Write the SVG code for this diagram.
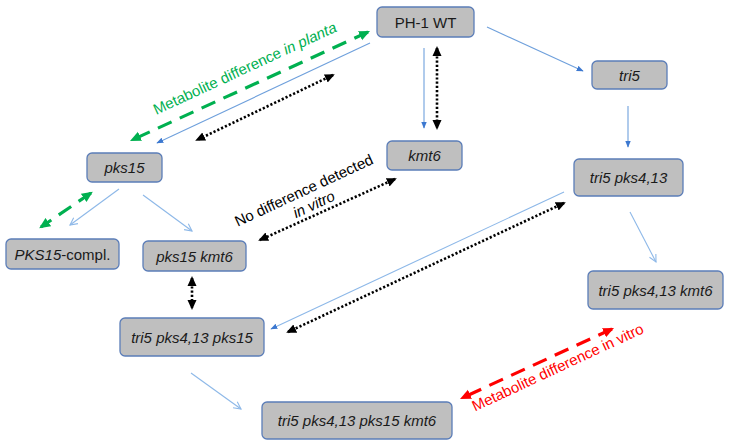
<svg xmlns="http://www.w3.org/2000/svg" width="730" height="446" viewBox="0 0 730 446">
<style>
.box{fill:#BFBFBF;stroke:#5B7DB8;stroke-width:1.3}
.t{font-family:"Liberation Sans",Arial,sans-serif;font-size:15px;fill:#1a1a1a;text-anchor:middle;dominant-baseline:central}
.i{font-style:italic}
.blue{stroke:#8DB8E8;stroke-width:1.1;fill:none}
.dark{stroke:#6FA0DC;stroke-width:1.1;fill:none}
.dot{stroke:#000;stroke-width:2.6;stroke-dasharray:2.2 2;fill:none}
.green{stroke:#00B050;stroke-width:3.2;stroke-dasharray:15 9;fill:none}
.red{stroke:#FF0000;stroke-width:3.2;stroke-dasharray:15 9;fill:none}
.lbl{font-family:"Liberation Sans",Arial,sans-serif;font-size:15px;text-anchor:middle}
</style>
<defs>
<marker id="ab" markerUnits="userSpaceOnUse" viewBox="0 0 10 10" refX="9" refY="5" markerWidth="7" markerHeight="7" orient="auto"><path d="M0,1 L10,5 L0,9 z" fill="#3C78D0"/></marker>
<marker id="ao" markerUnits="userSpaceOnUse" viewBox="0 0 10 10" refX="9" refY="5" markerWidth="9" markerHeight="9" orient="auto"><path d="M1,1 L9,5 L1,9" fill="none" stroke="#8DB8E8" stroke-width="1.2"/></marker>
<marker id="ak" markerUnits="userSpaceOnUse" viewBox="0 0 10 10" refX="8" refY="5" markerWidth="10" markerHeight="10" orient="auto-start-reverse"><path d="M0,0.5 L10,5 L0,9.5 z" fill="#000"/></marker>
<marker id="ag" markerUnits="userSpaceOnUse" viewBox="0 0 10 10" refX="8" refY="5" markerWidth="11" markerHeight="11" orient="auto-start-reverse"><path d="M0,0.5 L10,5 L0,9.5 z" fill="#00B050"/></marker>
<marker id="ar" markerUnits="userSpaceOnUse" viewBox="0 0 10 10" refX="8" refY="5" markerWidth="11" markerHeight="11" orient="auto-start-reverse"><path d="M0,0.5 L10,5 L0,9.5 z" fill="#FF0000"/></marker>
</defs>
<rect width="730" height="446" fill="#fff"/>
<g id="connectors">
<line class="dark" x1="370" y1="43" x2="157" y2="143" marker-end="url(#ab)"/>
<line class="dark" x1="424" y1="48" x2="424" y2="128" marker-end="url(#ab)"/>
<line class="dark" x1="487" y1="27" x2="583" y2="71" marker-end="url(#ab)"/>
<line class="dark" x1="628" y1="106" x2="628" y2="147" marker-end="url(#ab)"/>
<line class="blue" x1="630" y1="212" x2="656" y2="262" marker-end="url(#ao)"/>
<line class="blue" x1="564" y1="192" x2="271" y2="329" marker-end="url(#ab)"/>
<line class="blue" x1="119" y1="189" x2="70" y2="225" marker-end="url(#ao)"/>
<line class="blue" x1="143" y1="195" x2="192" y2="231" marker-end="url(#ao)"/>
<line class="blue" x1="191" y1="373" x2="241" y2="409" marker-end="url(#ao)"/>
<line class="dot" x1="333" y1="75" x2="197" y2="140" marker-start="url(#ak)" marker-end="url(#ak)"/>
<line class="dot" x1="437" y1="48" x2="437" y2="128" marker-start="url(#ak)" marker-end="url(#ak)"/>
<line class="dot" x1="395" y1="179" x2="260" y2="240" marker-start="url(#ak)" marker-end="url(#ak)"/>
<line class="dot" x1="192" y1="278" x2="192" y2="308" marker-start="url(#ak)" marker-end="url(#ak)"/>
<line class="dot" x1="564" y1="203" x2="288" y2="332" marker-start="url(#ak)" marker-end="url(#ak)"/>
<line class="green" x1="368" y1="32" x2="132" y2="140" marker-start="url(#ag)" marker-end="url(#ag)"/>
<line class="green" x1="91" y1="193" x2="41" y2="227" marker-start="url(#ag)" marker-end="url(#ag)"/>
<line class="red" x1="612" y1="329" x2="462" y2="398" marker-start="url(#ar)" marker-end="url(#ar)"/>
<text class="lbl" fill="#00B050" font-size="16" transform="translate(247,73) rotate(-24.8)">Metabolite difference <tspan font-style="italic">in planta</tspan></text>
<text class="lbl" fill="#000" transform="translate(306,195) rotate(-25)">No difference detected</text>
<text class="lbl" fill="#000" font-style="italic" transform="translate(316,209) rotate(-25)">in vitro</text>
<text class="lbl" fill="#FF0000" transform="translate(560,372) rotate(-25)">Metabolite difference in vitro</text>
</g>
<g id="n-ph1"><rect class="box" x="377" y="7" width="97" height="30" rx="5"/><text class="t" x="425.5" y="22">PH-1 WT</text></g>
<g id="n-tri5"><rect class="box" x="592" y="61" width="75" height="28" rx="5"/><text class="t i" x="629.5" y="75">tri5</text></g>
<g id="n-kmt6"><rect class="box" x="387" y="141" width="75" height="29" rx="5"/><text class="t i" x="424.5" y="155.5">kmt6</text></g>
<g id="n-tri5pks"><rect class="box" x="574" y="159" width="109" height="37" rx="5"/><text class="t i" x="628.5" y="177.5">tri5 pks4,13</text></g>
<g id="n-tri5pkskmt6"><rect class="box" x="588" y="271" width="135" height="38" rx="5"/><text class="t i" x="655.5" y="290">tri5 pks4,13 kmt6</text></g>
<g id="n-pks15"><rect class="box" x="87" y="153" width="75" height="29" rx="5"/><text class="t i" x="124.5" y="167.5">pks15</text></g>
<g id="n-compl"><rect class="box" x="6" y="239" width="113" height="30" rx="5"/><text class="t" x="62.5" y="254"><tspan font-style="italic">PKS15</tspan>-compl.</text></g>
<g id="n-pks15kmt6"><rect class="box" x="143" y="241" width="103" height="30" rx="5"/><text class="t i" x="194.5" y="256">pks15 kmt6</text></g>
<g id="n-tri5pkspks15"><rect class="box" x="120" y="318" width="144" height="38" rx="5"/><text class="t i" x="192" y="337">tri5 pks4,13 pks15</text></g>
<g id="n-all"><rect class="box" x="262" y="402" width="190" height="37" rx="5"/><text class="t i" x="357" y="420.5">tri5 pks4,13 pks15 kmt6</text></g>
</svg>
